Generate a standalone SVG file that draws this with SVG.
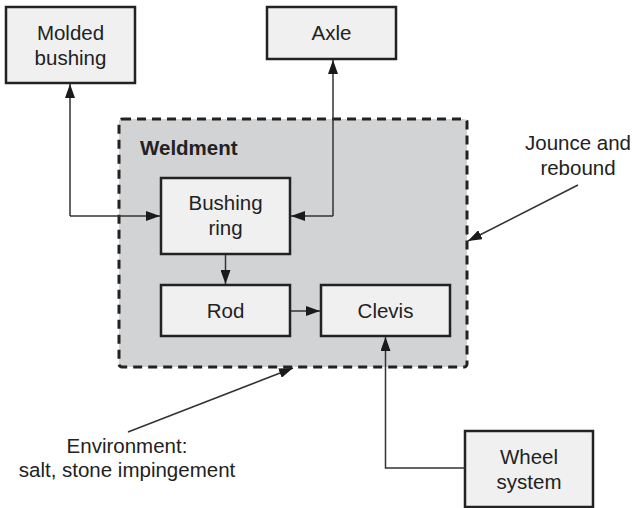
<svg xmlns="http://www.w3.org/2000/svg" width="636" height="508" viewBox="0 0 636 508">
  <defs>
    <marker id="arrow" viewBox="0 0 14 10" refX="14" refY="5" markerWidth="14" markerHeight="10" markerUnits="userSpaceOnUse" orient="auto">
      <path d="M0,0 L14,5 L0,10 Z" fill="#1a1a1a"/>
    </marker>
    <style>
      .box { fill: #f0f0f0; stroke: #222; stroke-width: 2.5; }
      .group { fill: #d2d3d5; stroke: #222; stroke-width: 3; stroke-dasharray: 9 6; }
      .label { font-family: "Liberation Sans", Arial, sans-serif; font-size: 20.5px; fill: #222; text-anchor: middle; }
      .title { font-family: "Liberation Sans", Arial, sans-serif; font-size: 20.5px; font-weight: bold; fill: #222; }
      .conn { fill: none; stroke: #333; stroke-width: 1.5; }
    </style>
  </defs>
  <rect width="636" height="508" fill="#ffffff"/>

  <!-- Weldment boundary -->
  <g id="weldment">
    <rect class="group" x="119" y="119" width="348" height="248" rx="3"/>
    <text class="title" x="140" y="155">Weldment</text>
  </g>

  <g id="molded-bushing">
    <rect class="box" x="6" y="7" width="129" height="76"/>
    <text class="label" x="70.5" y="40">Molded</text>
    <text class="label" x="70.5" y="65">bushing</text>
  </g>

  <g id="axle">
    <rect class="box" x="267" y="7" width="129" height="52"/>
    <text class="label" x="331.5" y="40">Axle</text>
  </g>

  <g id="bushing-ring">
    <rect class="box" x="161" y="178" width="129" height="76"/>
    <text class="label" x="225.5" y="210">Bushing</text>
    <text class="label" x="225.5" y="235">ring</text>
  </g>

  <g id="rod">
    <rect class="box" x="161" y="285" width="129" height="51"/>
    <text class="label" x="225.5" y="318">Rod</text>
  </g>

  <g id="clevis">
    <rect class="box" x="321" y="285" width="129" height="51"/>
    <text class="label" x="385.5" y="318">Clevis</text>
  </g>

  <g id="wheel-system">
    <rect class="box" x="465" y="431" width="128" height="76"/>
    <text class="label" x="529" y="464">Wheel</text>
    <text class="label" x="529" y="489">system</text>
  </g>

  <g id="jounce-label">
    <text class="label" x="578" y="150">Jounce and</text>
    <text class="label" x="578" y="175">rebound</text>
  </g>

  <g id="environment-label">
    <text class="label" x="127" y="453">Environment:</text>
    <text class="label" x="127" y="477">salt, stone impingement</text>
  </g>

  <g id="connectors">
    <!-- Molded bushing <-> Bushing ring -->
    <path class="conn" d="M70,216 L70,84" marker-end="url(#arrow)"/>
    <path class="conn" d="M70,216 L160,216" marker-end="url(#arrow)"/>
    <!-- Axle <-> Bushing ring -->
    <path class="conn" d="M333,216 L333,60" marker-end="url(#arrow)"/>
    <path class="conn" d="M333,216 L291,216" marker-end="url(#arrow)"/>
    <!-- Bushing ring -> Rod -->
    <path class="conn" d="M225.5,255 L225.5,284" marker-end="url(#arrow)"/>
    <!-- Rod -> Clevis -->
    <path class="conn" d="M291,311 L320,311" marker-end="url(#arrow)"/>
    <!-- Wheel system -> Clevis -->
    <path class="conn" d="M465,468 L385.5,468 L385.5,337" marker-end="url(#arrow)"/>
    <!-- Jounce and rebound -> Weldment -->
    <path class="conn" d="M578,185 L468,241" marker-end="url(#arrow)"/>
    <!-- Environment -> Weldment -->
    <path class="conn" d="M128,432 L293,368" marker-end="url(#arrow)"/>
  </g>
</svg>
